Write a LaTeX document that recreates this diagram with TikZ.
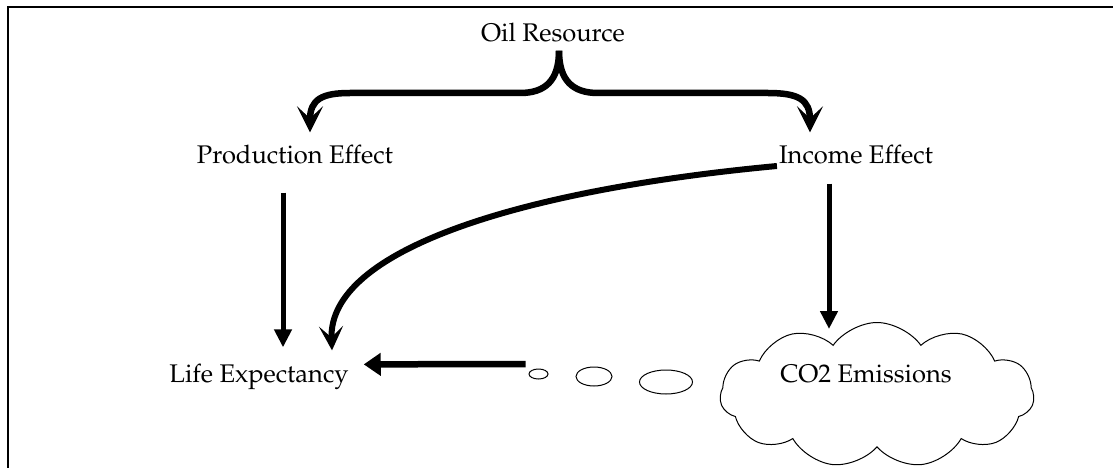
\documentclass[tikz,border=0pt]{standalone}
\usepackage[T1]{fontenc}
\usepackage{mathpazo}
\usetikzlibrary{arrows.meta,shapes.symbols,shapes.geometric,calc}
\begin{document}
\begin{tikzpicture}[x=1pt,y=-1pt,
  lbl/.style={font=\fontsize{25.5}{30}\selectfont, inner sep=0pt, anchor=base},
  bracearrow/.style={line width=6.5pt, -{Stealth[length=26pt,width=26pt,inset=12pt]}},
  curvearrow/.style={line width=6pt, -{Stealth[length=24pt,width=24pt,inset=11pt]}},
  varrow/.style={line width=5pt, -{Triangle[length=18pt,width=17pt]}},
  harrow/.style={line width=6.5pt, -{Triangle[length=17pt,width=22pt]}},
  bubble/.style={draw, ellipse, line width=1pt, inner sep=0pt},
  cloudshape/.style={draw, cloud, cloud puffs=11, cloud puff arc=110, aspect=2.17,
    minimum width=314pt, minimum height=145pt, line width=1pt, inner sep=0pt}
]
\useasboundingbox (0,0) rectangle (1113,468);
\draw[line width=2.5pt] (8,468) -- (8,7) -- (1113,7);

\node[cloudshape] (cloud) at (877,395) {};

\node[lbl] (oil) at (553,42) {Oil Resource};
\node[lbl] (prod) at (295,163) {Production Effect};
\node[lbl] (inc) at (856,163) {Income Effect};
\node[lbl] (life) at (259,382) {Life Expectancy};
\node[lbl] (co2) at (866,382) {CO2 Emissions};

\node[bubble, minimum width=19pt, minimum height=10pt] (b1) at (538.5,374) {};
\node[bubble, minimum width=36pt, minimum height=19pt] (b2) at (594,376.5) {};
\node[bubble, minimum width=53pt, minimum height=24pt] (b3) at (666,382) {};

\coordinate (fork) at ($(oil.south)+(6,8)$);

% brace
\draw[bracearrow] (fork) .. controls +(0,30) and (545,93) .. (520,93) -- (350,93)
   .. controls (322,93) and ($(prod.north)+(15,-45)$) .. ($(prod.north)+(15,-12)$);
\draw[bracearrow] (fork) .. controls +(0,30) and (573,93) .. (598,93) -- (768,93)
   .. controls (798,93) and ($(inc.north)+(-46,-45)$) .. ($(inc.north)+(-46,-12)$);

% vertical arrows
\draw[varrow] ($(prod.south)+(-12,29)$) -- ($(life.north)+(24,-16)$);
\draw[varrow] ($(inc.south)+(-27,20)$) coordinate (i0) -- ($(i0 |- cloud.north)+(0,7)$);

% curved arrow
\draw[curvearrow] ($(inc.base west)+(-2,3)$) .. controls (520,190) and (328,250) .. ($(life.north)+(73,-13)$);

% horizontal arrow
\draw[harrow] ($(b1.west)+(-3,-10)$) -- ($(life.east)+(15,-12)$);
\end{tikzpicture}
\end{document}
